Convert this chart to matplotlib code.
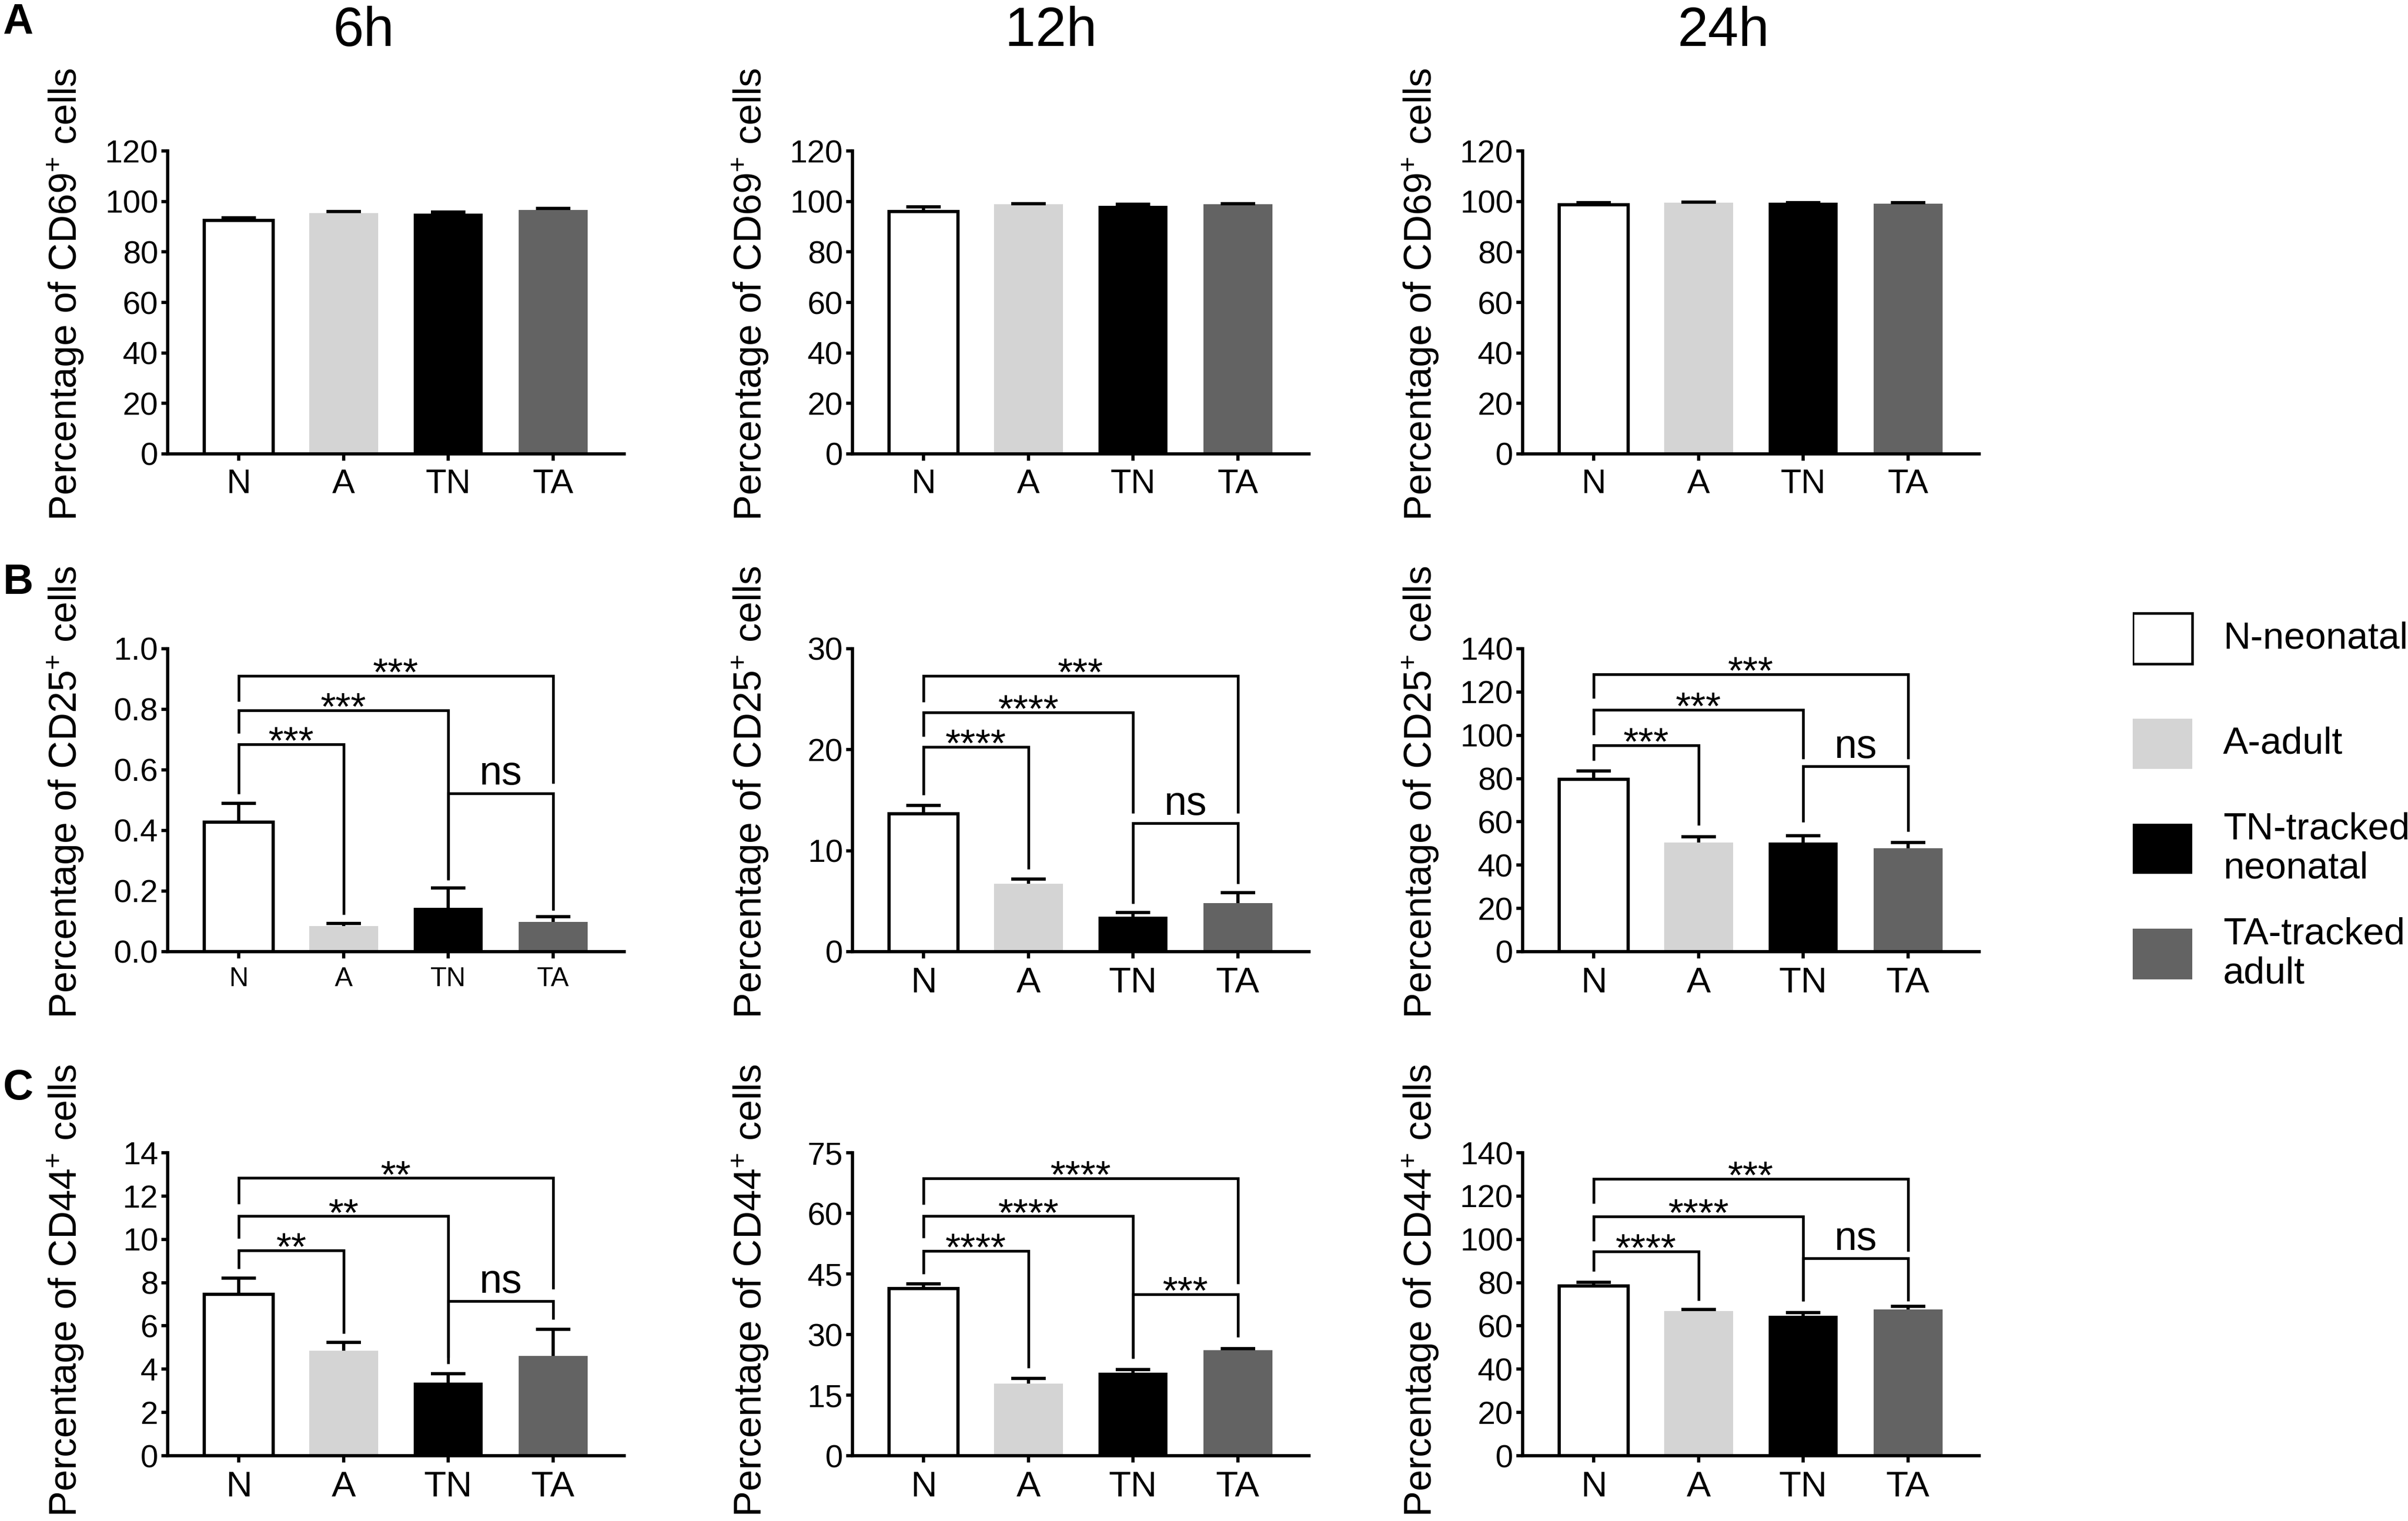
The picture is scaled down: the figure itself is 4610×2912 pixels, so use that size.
import matplotlib.pyplot as plt
from matplotlib.patches import Rectangle
import numpy as np

plt.rcParams['font.family'] = ['Liberation Sans', 'DejaVu Sans']
plt.rcParams['mathtext.fontset'] = 'custom'
plt.rcParams['mathtext.rm'] = 'Liberation Sans'
plt.rcParams['mathtext.default'] = 'regular'

groups = ['N', 'A', 'TN', 'TA']
legend_labels = ['N-neonatal', 'A-adult', 'TN-tracked\nneonatal', 'TA-tracked\nadult']
bar_colors = ['white', '#d4d4d4', 'black', '#636363']
times = ['6h', '12h', '24h']
markers = ['CD69', 'CD25', 'CD44']
panel_letters = ['A', 'B', 'C']

# ---- CD69 ----
cd69_6h = [92.4, 95.4, 95.2, 96.7]
cd69_6h_err = [1.1, 0.6, 0.5, 0.6]
cd69_12h = [96.0, 98.8, 98.2, 98.8]
cd69_12h_err = [1.8, 0.3, 0.6, 0.4]
cd69_24h = [98.6, 99.5, 99.5, 99.2]
cd69_24h_err = [0.9, 0.3, 0.1, 0.4]

# ---- CD25 ----
cd25_6h = [0.428, 0.085, 0.144, 0.0975]
cd25_6h_err = [0.062, 0.008, 0.066, 0.018]
cd25_12h = [13.67, 6.75, 3.46, 4.8]
cd25_12h_err = [0.83, 0.45, 0.42, 1.02]
cd25_24h = [79.6, 50.4, 50.4, 47.9]
cd25_24h_err = [3.9, 2.8, 3.1, 2.5]

# ---- CD44 ----
cd44_6h = [7.45, 4.84, 3.39, 4.6]
cd44_6h_err = [0.75, 0.39, 0.39, 1.23]
cd44_12h = [41.4, 17.8, 20.5, 26.1]
cd44_12h_err = [1.1, 1.3, 0.9, 0.4]
cd44_24h = [78.5, 66.75, 64.8, 67.5]
cd44_24h_err = [1.7, 0.85, 1.4, 1.5]

# significance brackets: (group i, group j, top, left leg end, right leg end, label)
cd25_6h_sig = [(0, 1, 0.685, 0.52, 0.122, '***'), (0, 2, 0.796, 0.72, 0.237, '***'),
               (0, 3, 0.91, 0.826, 0.555, '***'), (2, 3, 0.523, 0.24, 0.137, 'ns')]
cd25_12h_sig = [(0, 1, 20.3, 15.5, 8.15, '****'), (0, 2, 23.7, 21.3, 13.7, '****'),
                (0, 3, 27.3, 24.7, 13.7, '***'), (2, 3, 12.7, 4.75, 6.75, 'ns')]
cd25_24h_sig = [(0, 1, 95.3, 88.4, 58.3, '***'), (0, 2, 111.7, 100.2, 89.1, '***'),
                (0, 3, 128.1, 117, 89.1, '***'), (2, 3, 85.6, 59.8, 55.6, 'ns')]
cd44_6h_sig = [(0, 1, 9.48, 8.63, 5.66, '**'), (0, 2, 11.07, 10.04, 4.53, '**'),
               (0, 3, 12.83, 11.64, 7.71, '**'), (2, 3, 7.14, 4.24, 6.29, 'ns')]
cd44_12h_sig = [(0, 1, 50.7, 45, 21.75, '****'), (0, 2, 59.3, 53.9, 24.2, '****'),
                (0, 3, 68.7, 62.2, 42.5, '****'), (2, 3, 40, 24, 29.3, '***')]
cd44_24h_sig = [(0, 1, 94.5, 85.3, 71.7, '****'), (0, 2, 110.6, 99.3, 71.4, '****'),
                (0, 3, 128, 116.7, 94.3, '***'), (2, 3, 91.2, 71.4, 71.4, 'ns')]

# y axes
cd69_ticks = [0, 20, 40, 60, 80, 100, 120]
cd25_6h_ticks = [0.0, 0.2, 0.4, 0.6, 0.8, 1.0]
cd25_12h_ticks = [0, 10, 20, 30]
cd25_24h_ticks = [0, 20, 40, 60, 80, 100, 120, 140]
cd44_6h_ticks = [0, 2, 4, 6, 8, 10, 12, 14]
cd44_12h_ticks = [0, 15, 30, 45, 60, 75]
cd44_24h_ticks = [0, 20, 40, 60, 80, 100, 120, 140]

panels = [
    [(cd69_6h, cd69_6h_err, cd69_ticks, []), (cd69_12h, cd69_12h_err, cd69_ticks, []),
     (cd69_24h, cd69_24h_err, cd69_ticks, [])],
    [(cd25_6h, cd25_6h_err, cd25_6h_ticks, cd25_6h_sig), (cd25_12h, cd25_12h_err, cd25_12h_ticks, cd25_12h_sig),
     (cd25_24h, cd25_24h_err, cd25_24h_ticks, cd25_24h_sig)],
    [(cd44_6h, cd44_6h_err, cd44_6h_ticks, cd44_6h_sig), (cd44_12h, cd44_12h_err, cd44_12h_ticks, cd44_12h_sig),
     (cd44_24h, cd44_24h_err, cd44_24h_ticks, cd44_24h_sig)],
]

W, H = 4610, 2912
fig = plt.figure(figsize=(W / 100, H / 100), dpi=100)

col_left = [321, 1632, 2915]
row_top = [289, 1242, 2207]
ax_w, ax_h = 874, 580
LW = 4.5

xtick_size = [[47, 47, 47], [37, 50, 50], [50, 50, 50]]
ylabel_y = [0.527, 0.527, 0.545]

for r in range(3):
    for c in range(3):
        vals, errs, yticks, sig = panels[r][c]
        vals = np.array(vals)
        errs = np.array(errs)
        ax = fig.add_axes([col_left[c] / W, 1 - (row_top[r] + ax_h) / H, ax_w / W, ax_h / H])
        x = np.arange(len(groups))
        ax.bar(x, vals, width=0.66, color=bar_colors,
               edgecolor=['black', 'none', 'none', 'none'], linewidth=LW, zorder=2)
        # upward-only error bars
        ax.vlines(x, vals, vals + errs, color='black', lw=LW, zorder=1)
        ax.hlines(vals + errs, x - 0.165, x + 0.165, color='black', lw=LW, zorder=3)

        for i, j, top, le, re, lab in sig:
            ax.plot([i, i, j, j], [le, top, top, re], color='black', lw=3.8,
                    solid_joinstyle='miter', solid_capstyle='butt', zorder=3, clip_on=False)
            if lab == 'ns':
                ax.annotate(lab, xy=((i + j) / 2, top), xytext=(0, 12), textcoords='offset points',
                            ha='center', va='baseline', fontsize=56)
            else:
                ax.annotate(lab, xy=((i + j) / 2, top), xytext=(0, -13), textcoords='offset points',
                            ha='center', va='baseline', fontsize=54)

        ax.set_xlim(-0.68, 3.68)
        ax.set_ylim(yticks[0], yticks[-1])
        ax.set_yticks(yticks)
        if r == 1 and c == 0:
            ax.set_yticklabels(['%.1f' % t for t in yticks])
        ax.set_xticks(x)
        ax.set_xticklabels(groups)
        for s in ['top', 'right']:
            ax.spines[s].set_visible(False)
        for s in ['left', 'bottom']:
            ax.spines[s].set_linewidth(LW)
        ax.tick_params(axis='y', length=9, width=LW, labelsize=44, pad=4)
        ax.tick_params(axis='x', length=9, width=LW, labelsize=xtick_size[r][c], pad=11)
        ax.set_ylabel('Percentage of %s$^{+}$ cells' % markers[r], fontsize=53)
        ax.yaxis.set_label_coords(-0.18, ylabel_y[r])

# column titles
title_x = [696, 2012, 3300]
for c in range(3):
    fig.text(title_x[c] / W, 1 - 88 / H, times[c], ha='center', va='baseline', fontsize=76)

# panel letters
letter_y = [64, 1137, 2105]
for r in range(3):
    fig.text(6 / W, 1 - letter_y[r] / H, panel_letters[r], ha='left', va='baseline',
             fontsize=58, fontweight='bold')

# legend
ax_leg = fig.add_axes([4083 / W, 1 - 1927 / H, 527 / W, 805 / H])
ax_leg.set_xlim(0, 527)
ax_leg.set_ylim(3.5, -0.5)
ax_leg.axis('off')
for i, (lab, col) in enumerate(zip(legend_labels, bar_colors)):
    ax_leg.add_patch(Rectangle((0, i - 0.24), 114, 0.48, facecolor=col,
                               edgecolor='black' if col == 'white' else 'none', lw=3.5))
    ax_leg.text(173, i, lab, ha='left', va='center', fontsize=52, linespacing=1.15)

fig.savefig('out.png', dpi=100, facecolor='white')
